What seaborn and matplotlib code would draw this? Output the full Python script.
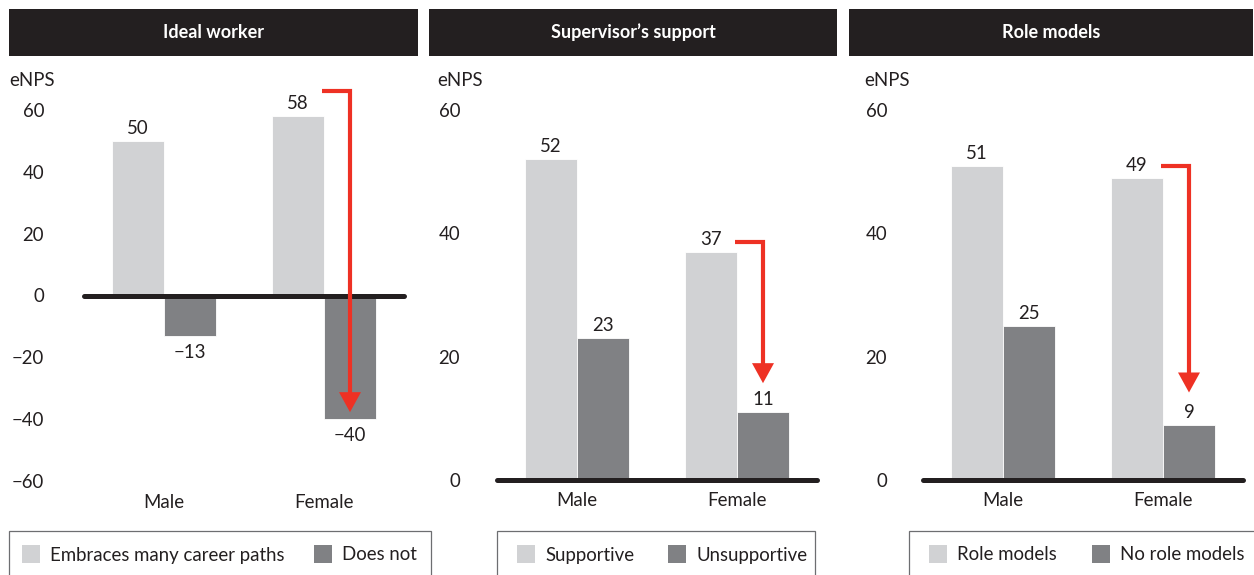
import matplotlib
matplotlib.use("Agg")
import matplotlib.pyplot as plt
import seaborn as sns
import pandas as pd
from matplotlib.patches import Rectangle, FancyArrowPatch

# ---------------- data ----------------
titles = ["Ideal worker", "Supervisor\u2019s support", "Role models"]
categories = ["Male", "Female"]
series_a = ["Embraces many career paths", "Supportive", "Role models"]
series_b = ["Does not", "Unsupportive", "No role models"]
values_a = [[50, 58], [52, 37], [51, 49]]
values_b = [[-13, -40], [23, 11], [25, 9]]
y_ticks = [[-60, -40, -20, 0, 20, 40, 60], [0, 20, 40, 60], [0, 20, 40, 60]]
y_label = "eNPS"

# ---------------- style ----------------
sns.set_style("white")
plt.rcParams["font.family"] = ["Lato", "DejaVu Sans"]
TXT = "#231f20"
LIGHT = "#d1d2d4"
DARK = "#808184"
RED = "#ee3124"
FS = 13
LFS = 13.4

W, H = 1254, 575
fig = plt.figure(figsize=(W / 100, H / 100), dpi=100)


def fx(px):
    return px / W


def fy(py):
    return 1 - py / H


# layout (pixels)
ax_left = [84, 497, 923]
ax_w = 320
ax_top = 110
ax_bot = [481, 480, 480]
header_x = [(9, 418), (429, 837), (849, 1253)]
header_y = (9, 56)
tick_right = [44, 460, 887]
enps_x = [9, 437, 864]
leg_box = [(9, 431), (497, 815), (909, 1262)]
leg_top = 531
sq_a = [22, 517, 929]
sq_b = [314, 668, 1092]
sq = 18
sq_y = 545
# arrow offsets in px: (start above light bar top, end offset from dark bar end)
arrow_off = [(25, 7), (10, 29), (12, 32)]

for i in range(3):
    # header band
    x0, x1 = header_x[i]
    fig.patches.append(Rectangle((fx(x0), fy(header_y[1])), fx(x1 - x0), (header_y[1] - header_y[0]) / H,
                                 transform=fig.transFigure, facecolor=TXT, edgecolor="none"))
    fig.text(fx((x0 + x1) / 2), fy((header_y[0] + header_y[1]) / 2), titles[i], color="white",
             fontsize=FS, fontweight="bold", ha="center", va="center")

    # axes
    ax = fig.add_axes([fx(ax_left[i]), fy(ax_bot[i]), ax_w / W, (ax_bot[i] - ax_top) / H])
    df = pd.DataFrame({
        "cat": categories * 2,
        "val": values_a[i] + values_b[i],
        "series": [series_a[i]] * 2 + [series_b[i]] * 2,
    })
    sns.barplot(data=df, x="cat", y="val", hue="series", order=categories,
                hue_order=[series_a[i], series_b[i]], palette=[LIGHT, DARK],
                width=0.65, saturation=1, legend=False, ax=ax, edgecolor="white", linewidth=0.6)
    ymin, ymax = y_ticks[i][0], y_ticks[i][-1]
    ax.set_ylim(ymin, ymax)
    ax.set_xlim(-0.5, 1.5)
    ax.set_yticks(y_ticks[i])
    ax.set_yticklabels([str(t).replace("-", "\u2212") for t in y_ticks[i]])
    ax.set_xlabel("")
    ax.set_ylabel("")
    for s in ax.spines.values():
        s.set_visible(False)
    ax.tick_params(axis="y", length=0, labelsize=LFS, labelcolor=TXT,
                   pad=(ax_left[i] - tick_right[i]) * 0.72)
    ax.tick_params(axis="x", length=0, labelsize=LFS, labelcolor=TXT, pad=9)
    ax.axhline(0, color=TXT, lw=3.6, zorder=3, clip_on=False)
    ax.patch.set_alpha(0)

    # value labels
    for p in ax.patches:
        if not isinstance(p, Rectangle) or p.get_width() == 0:
            continue
        v = p.get_height()
        cx = p.get_x() + p.get_width() / 2
        lab = str(int(round(v))).replace("-", "\u2212")
        if v >= 0:
            ax.annotate(lab, (cx, v), xytext=(0, 5), textcoords="offset points",
                        ha="center", va="baseline", fontsize=LFS, color=TXT)
        else:
            ax.annotate(lab, (cx, v), xytext=(0, -16), textcoords="offset points",
                        ha="center", va="baseline", fontsize=LFS, color=TXT)

    # red arrow (female: light -> dark)
    ppu = (ax_bot[i] - ax_top) / (ymax - ymin)
    bars = sorted([p for p in ax.patches if isinstance(p, Rectangle) and p.get_width() > 0],
                  key=lambda p: p.get_x())
    light_f, dark_f = bars[2], bars[3]
    xs = light_f.get_x() + light_f.get_width() - 0.01
    xd = dark_f.get_x() + dark_f.get_width() / 2
    ys = values_a[i][1] + arrow_off[i][0] / ppu
    vb = values_b[i][1]
    ye = vb + arrow_off[i][1] / ppu
    ax.plot([xs, xd, xd], [ys, ys, ye + 10.0 / ppu], color=RED, lw=3.0, zorder=5,
            solid_joinstyle="miter", solid_capstyle="butt", clip_on=False)
    arr = FancyArrowPatch((xd, ye + 60 / ppu), (xd, ye),
                          arrowstyle="-|>,head_length=1.0,head_width=0.55",
                          mutation_scale=14.4, color=RED, lw=0, zorder=6, clip_on=False,
                          shrinkA=0, shrinkB=0)
    ax.add_patch(arr)

    # eNPS label
    fig.text(fx(enps_x[i]), fy(80), y_label, fontsize=LFS, color=TXT, ha="left", va="center")

    # legend box (cropped at bottom)
    lx0, lx1 = leg_box[i]
    fig.patches.append(Rectangle((fx(lx0), fy(H + 20)), fx(lx1 - lx0), (H + 20 - leg_top) / H,
                                 transform=fig.transFigure, facecolor="none", edgecolor="#6d6e71", lw=0.9))
    for sx, col, lab in [(sq_a[i], LIGHT, series_a[i]), (sq_b[i], DARK, series_b[i])]:
        fig.patches.append(Rectangle((fx(sx), fy(sq_y + sq)), sq / W, sq / H, transform=fig.transFigure,
                                     facecolor=col, edgecolor="none"))
        fig.text(fx(sx + 28), fy(sq_y + sq / 2 + 1), lab, fontsize=LFS, color=TXT, ha="left", va="center")

fig.savefig("out.png", dpi=100)
